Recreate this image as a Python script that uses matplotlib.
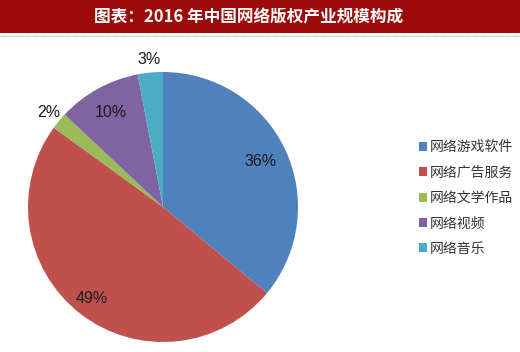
#!/usr/bin/env python3
import numpy as np
import matplotlib
matplotlib.use("Agg")
import matplotlib.pyplot as plt
from matplotlib.patches import Rectangle
from matplotlib.lines import Line2D

plt.rcParams["font.family"] = ["Noto Sans CJK SC", "DejaVu Sans"]

TITLE = "图表：2016 年中国网络版权产业规模构成"
CATEGORIES = ["网络游戏软件", "网络广告服务", "网络文学作品", "网络视频", "网络音乐"]
SHARES = [36, 49, 2, 10, 3]
COLORS = ["#4F81BD", "#C0504D", "#9BBB59", "#8064A2", "#4BACC6"]

W, H = 520, 352
fig = plt.figure(figsize=(W / 100, H / 100), dpi=100)
fig.patch.set_facecolor("white")

# title banner
fig.patches.append(Rectangle((0, 1 - 33 / H), 1, 33 / H, transform=fig.transFigure,
                             facecolor="#9E0A0A", edgecolor="none"))
fig.lines.append(Line2D([0, 1], [1 - 36 / H] * 2, transform=fig.transFigure,
                        color="#B0B0B0", lw=0.8, ls=(0, (1, 1))))
fig.text(249 / W, 1 - 17 / H, TITLE, color="white", fontsize=12, fontweight="bold",
         ha="center", va="center")

# pie
cx, cy, r = 163, 207, 135
ax = fig.add_axes([(cx - r) / W, (H - cy - r) / H, 2 * r / W, 2 * r / H])
wedges, _ = ax.pie(SHARES, colors=COLORS, startangle=90, counterclock=False,
                   wedgeprops=dict(linewidth=0))
ax.set_xlim(-1, 1)
ax.set_ylim(-1, 1)
ax.set_aspect("equal")
ax.axis("off")

for w, v in zip(wedges, SHARES):
    ang = np.deg2rad((w.theta1 + w.theta2) / 2)
    dist = 0.8 if v >= 10 else 1.1
    if v == 49:
        dist = 0.86
    ax.text(dist * np.cos(ang), dist * np.sin(ang), f"{v}%", ha="center", va="center",
            fontsize=11.5, family=["Liberation Sans", "DejaVu Sans"], color="#1A1A1A")

handles = [Rectangle((0, 0), 1, 1, facecolor=c, edgecolor="none") for c in COLORS]
fig.legend(handles, CATEGORIES, loc="center left", bbox_to_anchor=(419 / W, 1 - 198 / H),
           frameon=False, fontsize=10, handlelength=0.6, handleheight=0.6,
           handletextpad=0.2, labelspacing=0.82, borderpad=0, borderaxespad=0,
           labelcolor="#333333")

fig.savefig("out.png", dpi=100)
